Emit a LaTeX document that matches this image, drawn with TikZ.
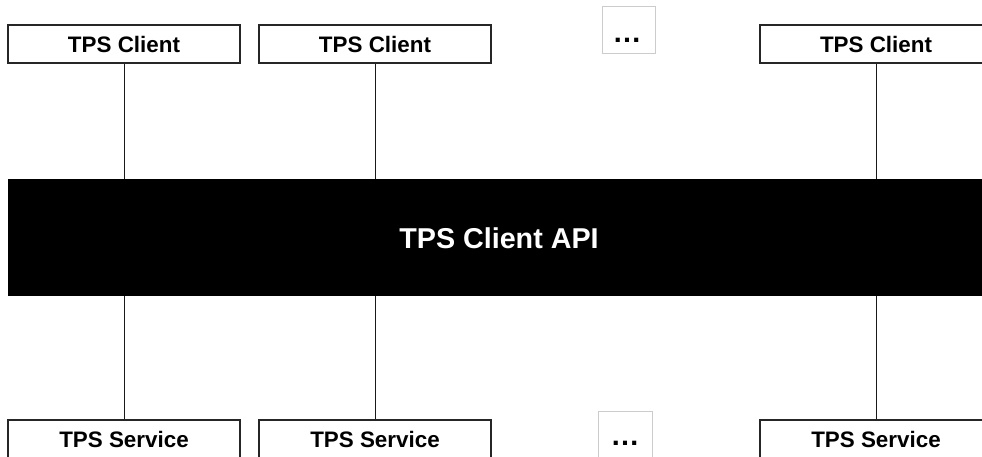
\documentclass[tikz,border=0pt]{standalone}
\usepackage{fontspec}
\setmainfont{Liberation Sans}
\begin{document}
\begin{tikzpicture}[x=1pt,y=-1pt,
  tpsbox/.style={draw=black!85,line width=1.3pt,fill=white,minimum width=232pt,minimum height=38pt,inner sep=0pt,
    font=\bfseries\fontsize{22.4}{26}\selectfont},
  dotbox/.style={draw=black!20,line width=0.8pt,fill=white,inner sep=0pt},
  dotstext/.style={inner sep=0pt,font=\bfseries\fontsize{29}{29}\selectfont},
  apibar/.style={fill=black,draw=none,inner sep=0pt,text=white,font=\bfseries\fontsize{28.7}{32}\selectfont},
  link/.style={draw=black!90,line width=1pt}]
\useasboundingbox (0,0) rectangle (982,457);
\clip (0,0) rectangle (982,457);

% central API bar
\node[apibar,minimum width=992pt,minimum height=117pt] (api) at (504,237.5) {};
\node[inner sep=0pt,text=white,font=\bfseries\fontsize{28.7}{32}\selectfont] (apilabel) at (499,238) {TPS Client API};

% clients
\node[tpsbox] (c1) at (124,44) {TPS Client};
\node[tpsbox] (c2) at (375,44) {TPS Client};
\node[tpsbox] (c3) at (876,44) {TPS Client};
\node[dotbox,minimum width=53pt,minimum height=47pt] (cdots) at (628.5,29.5) {};
\node[dotstext] (cdotsl) at (627,40) {…};

% services
\node[tpsbox] (s1) at (124,439) {TPS Service};
\node[tpsbox] (s2) at (375,439) {TPS Service};
\node[tpsbox] (s3) at (876,439) {TPS Service};
\node[dotbox,minimum width=54pt,minimum height=60pt] (sdots) at (625,441) {};
\node[dotstext] (sdotsl) at (625,443.5) {…};

% connectors
\foreach \n in {1,2,3}{
  \draw[link] (c\n.south) -- (c\n.south |- api.north);
  \draw[link] (s\n.north) -- (s\n.north |- api.south);
}
\end{tikzpicture}
\end{document}
